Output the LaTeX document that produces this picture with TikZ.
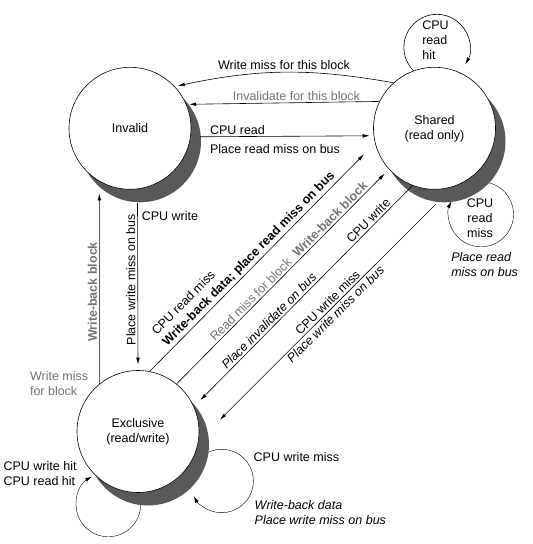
\documentclass[tikz,border=0pt]{standalone}
\usepackage{fontspec}
\setmainfont{Liberation Sans}
\usetikzlibrary{arrows.meta,shadows,backgrounds}

\begin{document}
\begin{tikzpicture}[x=1pt,y=1pt,auto,>={Latex[length=7pt,width=3.6pt]},line width=0.6pt,
		font=\fontsize{12.5}{15}\selectfont]
		\tikzstyle{state} = [circle, draw, fill=white, minimum size=122pt, inner sep=0pt, align=center,
			drop shadow={shadow xshift=10pt, shadow yshift=-13pt, fill=black!65, opacity=1}]
		\tikzstyle{lbl} = [inner sep=2pt]
		\tikzstyle{dim} = [text=black!55]
		\useasboundingbox (0,0) rectangle (533,-544);
		\node (inv) [state] at (130,-128.3) {Invalid};
		\node (sh) [state, right of=inv, node distance=304.5pt] {Shared\\(read only)};
		\node (ex) [state, below of=inv, node distance=303.2pt, xshift=8pt] {Exclusive\\(read/write)};
		% loops that run under the shadows
		\begin{scope}[on background layer]
			\draw[->] (sh) ++(46.5,-53.5) arc[start angle=90, end angle=-204, radius=32.5];
			\draw[->] (ex) ++(0.7,-61.9) arc[start angle=20, end angle=-240, radius=32.3];
			\draw[->] (ex) ++(63.3,-25.2) arc[start angle=130, end angle=-152, radius=31.7];
		\end{scope}
		\draw[->] (sh.110) arc[start angle=225, end angle=-31, radius=33];
		\node (rhit) [lbl, anchor=west, align=left] at (420,-40) {CPU\\read\\hit};
		\node (rmiss) [lbl, align=center] at (480,-218) {CPU\\read\\miss};
		\node (rmissbus) [lbl, anchor=west, align=left] at (449,-264.7) {\textit{Place read}\\\textit{miss on bus}};
		\node (exhit) [lbl, anchor=west, align=left] at (1.3,-473.7) {CPU write hit\\CPU read hit};
		\node (wmiss) [lbl, anchor=west] at (251.4,-457.4) {CPU write miss};
		\node (wback) [lbl, anchor=west, align=left] at (252.4,-512.8) {\textit{Write-back data}\\\textit{Place write miss on bus}};
		% top row
		\draw[->, shorten >=3pt] (sh.132) to[bend right=11] node[lbl, above] {Write miss for this block} (inv.43.5);
		\draw[->, shorten >=2.7pt] (sh.154.6) -- node[lbl, dim, above, pos=0.43] {Invalidate for this block} (inv.23.7);
		\draw[->, shorten <=9pt, shorten >=4pt] (inv.-8.2) --
			node[lbl, pos=0.093, anchor=south west] {CPU read}
			node[lbl, pos=0.093, anchor=north west, yshift=-5pt] {Place read miss on bus} (sh.187.3);
		% verticals
		\draw[<-, shorten <=5.5pt, shorten >=14pt] (ex.90.5) --
			node[lbl, sloped, allow upside down, above] {Place write miss on bus}
			node[lbl, pos=0.85, right, xshift=2pt] {CPU write} (inv.-83);
		\draw[->, shorten >=12pt] (ex.129) --
			node[lbl, dim, sloped, allow upside down, above, pos=0.454] {\textbf{Write-back block}}
			node[lbl, dim, pos=0, left=9pt, align=left] {Write miss\\for block} (inv.-120);
		% diagonals
		\draw[->, shorten >=15.6pt] (ex.79.9) --
			node[lbl, pos=0.087, sloped, anchor=south west, align=left] {CPU read miss\\\textbf{Write-back data; place read miss on bus}} (sh.194.6);
		\draw[->, shorten >=6pt] (ex.51.9) --
			node[lbl, dim, pos=0.55, sloped, above] {Read miss for block\hspace{8pt}\textbf{Write-back block}} (sh.222);
		\draw[<-, shorten <=9pt] (ex.24.9) --
			node[lbl, pos=0.365, sloped, above] {\textit{Place invalidate on bus}}
			node[lbl, pos=0.82, sloped, above] {CPU write} (sh.249.2);
		\draw[<-, shorten <=30pt, shorten >=25pt] (ex.-9.9) --
			node[lbl, pos=0.525, sloped, above] {CPU write miss}
			node[lbl, pos=0.518, sloped, below] {\textit{Place write miss on bus}} (sh.-72.5);
	\end{tikzpicture}
\end{document}
